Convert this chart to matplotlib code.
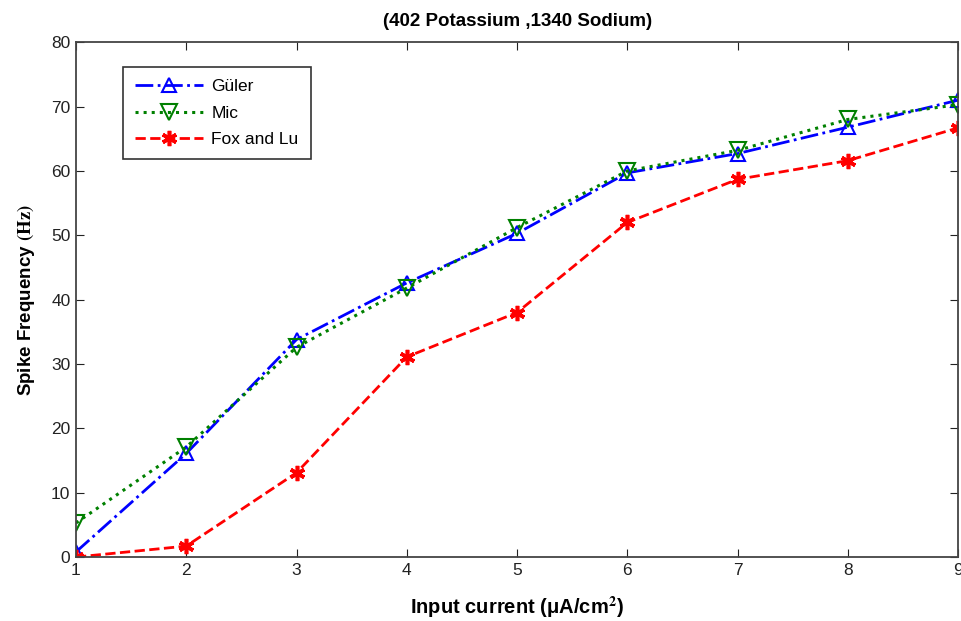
import matplotlib
matplotlib.use('Agg')
import matplotlib.pyplot as plt

plt.rcParams['font.family'] = ['Liberation Sans', 'DejaVu Sans']
plt.rcParams['mathtext.fontset'] = 'stix'

# input current levels and spike frequencies for each model
current = [1, 2, 3, 4, 5, 6, 7, 8, 9]
guler = [0.8, 16.1, 33.8, 42.6, 50.3, 59.7, 62.7, 66.8, 71.0]
mic = [5.3, 17.1, 32.6, 41.8, 51.2, 60.0, 63.2, 68.0, 70.3]
fox_lu = [0.0, 1.7, 13.1, 31.1, 38.0, 52.0, 58.7, 61.6, 66.7]

fig = plt.figure(figsize=(9.62, 6.21), dpi=100)
ax = fig.add_axes([0.079, 0.103, 0.917, 0.829])

ax.plot(current, guler, color='blue', linestyle='-.', linewidth=2,
        marker='^', markersize=10, markerfacecolor='none', markeredgewidth=1.5,
        label='Güler')
ax.plot(current, mic, color='green', linestyle=':', linewidth=2.2,
        marker='v', markersize=11, markerfacecolor='none', markeredgewidth=1.5,
        label='Mic')
ax.plot(current, fox_lu, color='red', linestyle='--', linewidth=2,
        marker=(6, 2, 0), markersize=11, markeredgewidth=2.6,
        label='Fox and Lu')

ax.set_xlim(1, 9)
ax.set_ylim(0, 80)
ax.set_xticks(range(1, 10))
ax.set_yticks(range(0, 81, 10))
ax.tick_params(direction='in', top=True, right=True, length=6,
               labelsize=12.5, pad=4, colors='#222222')
for s in ax.spines.values():
    s.set_color('#444444')
    s.set_linewidth(1.3)

ax.set_title('(402 Potassium ,1340 Sodium)', fontsize=13.5, fontweight='bold', pad=12)
ax.set_xlabel(r'Input current ($\mathregular{\mu}$A/cm$^{\mathbf{2}}$)',
              fontsize=14.5, fontweight='bold', labelpad=12)
ax.set_ylabel(r'Spike Frequency $\mathbf{(Hz)}$', fontsize=13.5,
              fontweight='bold', labelpad=10)

leg = ax.legend(loc='upper left', bbox_to_anchor=(0.053, 0.952), fontsize=12.5,
                fancybox=False, framealpha=1, edgecolor='#333333',
                handlelength=3.9, handletextpad=0.5, borderpad=0.7,
                labelspacing=0.65, borderaxespad=0)
leg.get_frame().set_linewidth(1.2)

fig.savefig('out.png', dpi=100)
